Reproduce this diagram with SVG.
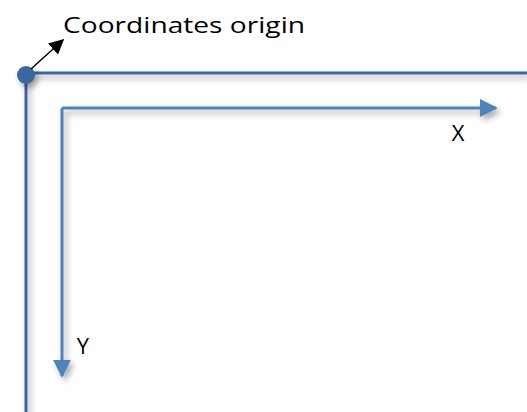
<svg xmlns="http://www.w3.org/2000/svg" width="527" height="412" viewBox="0 0 527 412">
<defs>
<filter id="sh" filterUnits="userSpaceOnUse" x="0" y="0" width="527" height="412">
<feGaussianBlur in="SourceAlpha" stdDeviation="3"/>
<feOffset dx="3" dy="4" result="b"/>
<feComponentTransfer><feFuncA type="linear" slope="0.35"/></feComponentTransfer>
<feMerge><feMergeNode/><feMergeNode in="SourceGraphic"/></feMerge>
</filter>
<marker id="ab" viewBox="0 0 10 10" refX="9" refY="5" markerWidth="6" markerHeight="6" markerUnits="strokeWidth" orient="auto">
<path d="M0,0 L10,5 L0,10 z" fill="#4f81bd"/>
</marker>
<marker id="ak" viewBox="0 0 10 10" refX="9" refY="5" markerWidth="10" markerHeight="10" markerUnits="strokeWidth" orient="auto">
<path d="M0,0 L10,5 L0,10 z" fill="#000"/>
</marker>
</defs>
<style>
.frame{stroke:#3a66a0;stroke-width:3;fill:none}
.axis{stroke:#4f81bd;stroke-width:3;fill:none}
text{font-family:"Open Sans","Liberation Sans",sans-serif;fill:#000}
</style>
<g id="frame" filter="url(#sh)">
<path class="frame" d="M26,412 V73 H527"/>
</g>
<g id="origin" filter="url(#sh)">
<circle cx="26" cy="75" r="9" fill="#3a66a0"/>
</g>
<g id="connectors">
<g filter="url(#sh)">
<path class="axis" d="M62,108 H496" marker-end="url(#ab)"/>
<path class="axis" d="M62,108 V376" marker-end="url(#ab)"/>
</g>
<line x1="31" y1="69" x2="63" y2="40" stroke="#000" stroke-width="1.5" marker-end="url(#ak)"/>
</g>
<g id="label-origin"><text x="63" y="33" font-size="21" textLength="242" lengthAdjust="spacingAndGlyphs">Coordinates origin</text></g>
<g id="label-x"><text x="458" y="141" font-size="22" text-anchor="middle">X</text></g>
<g id="label-y"><text x="83" y="354" font-size="22" text-anchor="middle">Y</text></g>
</svg>
